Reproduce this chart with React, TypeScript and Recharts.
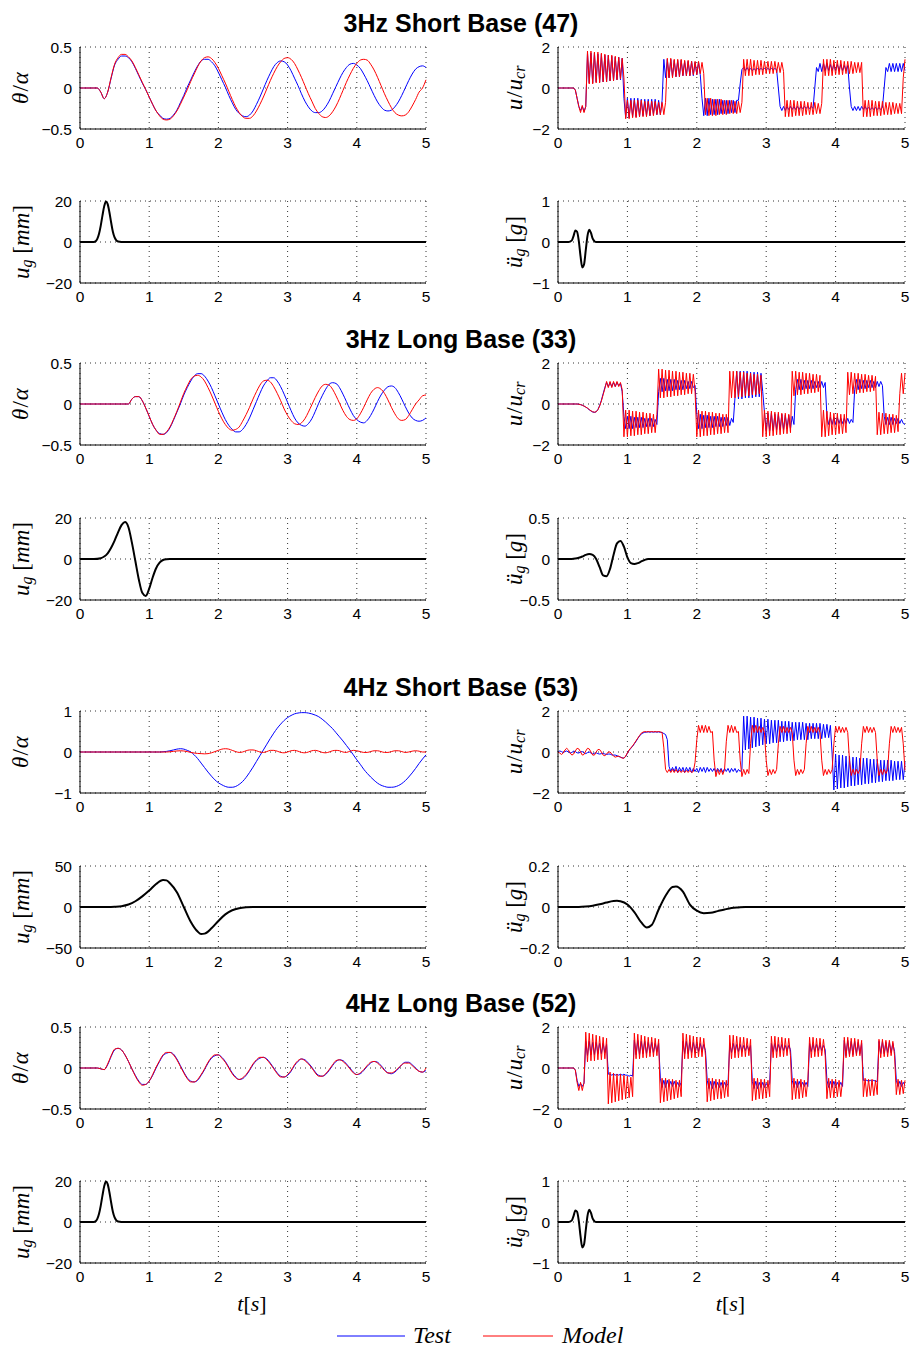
import React from 'react';
import { LineChart, Line, XAxis, YAxis, CartesianGrid } from 'recharts';

// ---------- tick labels / categories ----------
const X_TICKS = [0, 1, 2, 3, 4, 5];
const TICKS_THETA_05 = [-0.5, 0, 0.5];
const TICKS_THETA_1 = [-1, 0, 1];
const TICKS_U = [-2, 0, 2];
const TICKS_UG_20 = [-20, 0, 20];
const TICKS_UG_50 = [-50, 0, 50];
const TICKS_ACC_1 = [-1, 0, 1];
const TICKS_ACC_05 = [-0.5, 0, 0.5];
const TICKS_ACC_02 = [-0.2, 0, 0.2];
const TITLES = ['3Hz Short Base (47)', '3Hz Long Base (33)', '4Hz Short Base (53)', '4Hz Long Base (52)'];
const SERIES_NAMES = ['Test', 'Model'];

const DT_THETA = 0.05;
const DT_U = 0.025;

// ---------- 3Hz Short Base (47) ----------
const thetaTest3S = [0,0,0,0,0,0,-0.05,-0.13,-0.05,0.12,
 0.28,0.35,0.39,0.39,0.37,0.32,0.24,0.15,0.06,-0.02,
 -0.11,-0.2,-0.28,-0.33,-0.37,-0.38,-0.37,-0.33,-0.27,-0.18,
 -0.09,0.01,0.1,0.19,0.27,0.33,0.35,0.35,0.32,0.27,
 0.19,0.1,0.01,-0.09,-0.18,-0.26,-0.31,-0.34,-0.35,-0.33,
 -0.28,-0.2,-0.11,-0.01,0.09,0.18,0.26,0.31,0.33,0.32,
 0.28,0.21,0.12,0.03,-0.07,-0.16,-0.23,-0.28,-0.3,-0.3,
 -0.28,-0.23,-0.16,-0.07,0.02,0.11,0.19,0.25,0.29,0.3,
 0.28,0.24,0.17,0.09,0,-0.09,-0.17,-0.23,-0.27,-0.28,
 -0.27,-0.23,-0.17,-0.09,0,0.09,0.17,0.23,0.26,0.27,
 0.25];
const thetaModel3S = [0,0,0,0,0,0,-0.05,-0.13,-0.05,0.13,
 0.29,0.37,0.41,0.41,0.38,0.33,0.25,0.16,0.07,-0.02,
 -0.11,-0.2,-0.28,-0.34,-0.38,-0.39,-0.38,-0.34,-0.28,-0.2,
 -0.11,-0.02,0.08,0.17,0.26,0.33,0.37,0.38,0.36,0.31,
 0.24,0.15,0.06,-0.04,-0.14,-0.23,-0.3,-0.35,-0.37,-0.37,
 -0.34,-0.28,-0.2,-0.11,-0.01,0.09,0.18,0.26,0.32,0.36,
 0.37,0.35,0.3,0.22,0.13,0.03,-0.07,-0.16,-0.25,-0.31,
 -0.35,-0.36,-0.34,-0.29,-0.22,-0.13,-0.03,0.07,0.16,0.24,
 0.3,0.34,0.35,0.34,0.29,0.22,0.13,0.03,-0.07,-0.16,
 -0.24,-0.3,-0.33,-0.34,-0.33,-0.29,-0.22,-0.14,-0.05,0,
 0.1];
const uTest3S = [0,0,0,0,0,0,0,0,0,0,
 -0.1,-0.5,-0.9,-1.1,-0.9,-1.15,-0.9,1.7,0.25,1.7,
 0.25,1.7,0.3,1.65,0.3,1.65,0.3,1.6,0.3,1.6,
 0.35,1.55,0.35,1.5,0.4,1.5,0.4,1.45,-0.5,-1.45,
 -0.5,-1.45,-0.5,-1.4,-0.5,-1.4,-0.5,-1.4,-0.55,-1.35,
 -0.55,-1.35,-0.55,-1.35,-0.55,-1.3,-0.55,-1.3,-0.6,-1.3,
 -0.6,1.4,0.5,1.4,0.5,1.4,0.55,1.35,0.55,1.35,
 0.55,1.35,0.6,1.3,0.6,1.3,0.6,1.3,0.6,1.25,
 0.65,1.25,0.65,-0.5,-1.35,-0.5,-1.35,-0.5,-1.3,-0.55,
 -1.3,-0.55,-1.3,-0.55,-1.25,-0.6,-1.25,-0.6,-1.25,-0.6,
 -1.2,-0.6,-1.2,-0.6,-0.6,0.2,0.9,1.0,0.85,1.0,
 0.85,0.95,0.85,0.95,0.85,0.95,0.9,0.95,0.9,0.95,
 0.9,0.95,0.9,0.95,0.9,0.95,0.9,0,-0.9,-1.1,
 -0.9,-1.1,-0.9,-1.05,-0.9,-1.05,-0.9,-1.05,-0.9,-1.05,
 -0.9,-1.0,-0.9,-1.0,-0.9,-1.0,-0.9,-1.0,0,1.0,
 0.8,1.2,0.8,1.2,0.85,1.2,0.85,1.15,0.85,1.15,
 0.85,1.15,0.85,1.15,0.85,1.1,0.85,1.1,0,-0.9,
 -1.1,-0.9,-1.1,-0.9,-1.1,-0.9,-1.05,-0.9,-1.05,-0.95,
 -1.05,-0.95,-1.05,-0.95,-1.05,-0.95,-1.05,-0.95,0,1.0,
 0.8,1.2,0.8,1.2,0.8,1.2,0.8,1.2,0.8,1.2,
 0.85];
const uModel3S = [0,0,0,0,0,0,0,0,0,0,
 -0.1,-0.5,-0.9,-1.2,-0.85,-1.2,-0.9,1.8,0.2,1.8,
 0.2,1.75,0.25,1.75,0.25,1.7,0.3,1.65,0.3,1.6,
 0.35,1.6,0.35,1.55,0.4,1.5,0.45,1.45,0.5,-1.5,
 -0.6,-1.5,-0.6,-1.45,-0.6,-1.45,-0.6,-1.4,-0.6,-1.4,
 -0.65,-1.4,-0.65,-1.35,-0.65,-1.35,-0.65,-1.3,-0.7,-1.3,
 -0.7,-1.3,-0.7,1.45,0.5,1.45,0.5,1.4,0.55,1.4,
 0.55,1.4,0.6,1.35,0.6,1.35,0.6,1.3,0.65,1.3,
 0.65,1.3,0.7,1.25,0.7,-1.3,-0.5,-1.35,-0.5,-1.35,
 -0.55,-1.35,-0.55,-1.3,-0.55,-1.3,-0.6,-1.3,-0.6,-1.25,
 -0.6,-1.25,-0.65,-1.25,-0.65,-1.2,-0.7,1.4,0.6,1.4,
 0.6,1.4,0.6,1.35,0.65,1.35,0.65,1.35,0.65,1.3,
 0.7,1.3,0.7,1.3,0.7,1.3,0.75,1.25,0.75,1.25,
 0.8,-1.4,-0.6,-1.4,-0.6,-1.4,-0.6,-1.35,-0.65,-1.35,
 -0.65,-1.35,-0.65,-1.3,-0.7,-1.3,-0.7,-1.3,-0.7,-1.25,
 -0.75,-1.25,-0.75,1.4,0.6,1.4,0.6,1.4,0.6,1.35,
 0.65,1.35,0.65,1.35,0.65,1.3,0.7,1.3,0.7,1.3,
 0.7,1.25,0.75,1.25,0.75,1.25,-1.4,-0.6,-1.4,-0.6,
 -1.4,-0.6,-1.35,-0.65,-1.35,-0.65,-1.35,-0.65,-1.3,-0.7,
 -1.3,-0.7,-1.3,-0.7,-1.25,-0.75,-1.25,-0.75,-1.25,0.5,
 1.4];
const ugTime3S = [0,0.2,0.225,0.25,0.275,0.3,0.325,0.35,0.375,0.4,0.425,0.45,0.475,0.5,0.525,0.55,0.6,5];
const ug3S = [0,0,0.3,1.5,4,8,13,17.5,19.8,18.5,14.5,9.5,5,2.2,0.8,0.2,0,0];
const accTime3S = [0,0.15,0.2,0.225,0.25,0.275,0.3,0.325,0.35,0.375,0.4,0.425,0.45,0.475,0.5,0.525,0.55,0.6,5];
const acc3S = [0,0,0.04,0.15,0.28,0.25,0.02,-0.35,-0.62,-0.55,-0.2,0.15,0.3,0.22,0.08,0.02,0,0,0];

// ---------- 3Hz Long Base (33) ----------
const thetaTest3L = [0,0,0,0,0,0,0,0,0,0,
 0,0,0,0,0,0.06,0.09,0.09,0.04,-0.05,
 -0.15,-0.25,-0.32,-0.36,-0.37,-0.35,-0.29,-0.2,-0.1,0,
 0.11,0.2,0.28,0.34,0.37,0.37,0.34,0.28,0.2,0.1,
 0,-0.1,-0.19,-0.26,-0.31,-0.34,-0.34,-0.31,-0.25,-0.17,
 -0.07,0.03,0.13,0.22,0.28,0.32,0.32,0.28,0.21,0.12,
 0.02,-0.08,-0.17,-0.23,-0.26,-0.27,-0.24,-0.18,-0.09,0.01,
 0.1,0.18,0.24,0.26,0.25,0.2,0.12,0.03,-0.06,-0.14,
 -0.19,-0.22,-0.23,-0.2,-0.14,-0.06,0.03,0.11,0.17,0.21,
 0.22,0.2,0.14,0.06,-0.03,-0.11,-0.17,-0.2,-0.21,-0.2,
 -0.17];
const thetaModel3L = [0,0,0,0,0,0,0,0,0,0,
 0,0,0,0,0,0.06,0.09,0.09,0.04,-0.05,
 -0.15,-0.25,-0.32,-0.37,-0.37,-0.34,-0.28,-0.19,-0.09,0.02,
 0.13,0.22,0.3,0.34,0.35,0.33,0.28,0.2,0.11,0.01,
 -0.09,-0.18,-0.25,-0.3,-0.32,-0.31,-0.28,-0.21,-0.13,-0.04,
 0.06,0.15,0.23,0.28,0.29,0.27,0.21,0.13,0.04,-0.06,
 -0.14,-0.2,-0.24,-0.25,-0.23,-0.18,-0.1,-0.01,0.08,0.16,
 0.22,0.24,0.23,0.18,0.1,0.01,-0.08,-0.15,-0.19,-0.2,
 -0.18,-0.12,-0.04,0.05,0.13,0.18,0.2,0.18,0.13,0.05,
 -0.04,-0.12,-0.18,-0.2,-0.19,-0.14,-0.07,0,0.05,0.1,
 0.11];
const uTest3L = [0,0,0,0,0,0,0,0,0,0,
 0,0,-0.01,-0.03,-0.06,-0.1,-0.15,-0.21,-0.28,-0.34,
 -0.39,-0.41,-0.38,-0.27,-0.08,0.18,0.5,0.8,1.05,0.85,
 1.05,0.85,1.05,0.85,1.05,0.9,1.0,0.6,-0.6,-1.2,
 -0.6,-1.2,-0.6,-1.2,-0.65,-1.15,-0.65,-1.15,-0.65,-1.15,
 -0.7,-1.1,-0.7,-1.1,-0.7,-1.1,-0.75,-1.0,0.6,1.25,
 0.6,1.25,0.65,1.2,0.65,1.2,0.65,1.2,0.7,1.15,
 0.7,1.15,0.7,1.15,0.75,1.1,0.75,1.1,0.8,0.9,
 -0.5,-1.2,-0.5,-1.2,-0.55,-1.15,-0.55,-1.15,-0.6,-1.15,
 -0.6,-1.1,-0.6,-1.1,-0.65,-1.1,-0.65,-1.05,-0.65,-1.05,
 -0.7,-0.9,0.3,1.6,0.25,1.6,0.25,1.6,0.3,1.6,
 0.3,1.55,0.3,1.55,0.35,1.55,0.35,1.5,0.6,-0.4,
 -1.3,-0.45,-1.3,-0.45,-1.3,-0.5,-1.25,-0.5,-1.25,-0.5,
 -1.25,-0.55,-1.2,-0.55,-1.2,-0.6,-1.0,0.7,1.2,0.7,
 1.2,0.7,1.15,0.75,1.15,0.75,1.15,0.75,1.1,0.8,
 1.1,0.8,1.1,0.8,1.05,-0.6,-1.0,-0.65,-1.0,-0.65,
 -1.0,-0.65,-0.95,-0.7,-0.95,-0.7,-0.95,-0.7,-0.95,-0.75,
 -0.9,0.7,1.2,0.7,1.2,0.75,1.15,0.75,1.15,0.8,
 1.15,0.8,1.1,0.8,1.1,0.85,1.1,0.9,-0.6,-1.0,
 -0.65,-1.0,-0.65,-1.0,-0.7,-0.95,-0.7,-0.95,-0.75,-0.95,
 -1.0];
const uModel3L = [0,0,0,0,0,0,0,0,0,0,
 0,0,-0.01,-0.03,-0.06,-0.1,-0.15,-0.2,-0.27,-0.33,
 -0.38,-0.4,-0.38,-0.28,-0.1,0.15,0.45,0.75,1.1,0.8,
 1.1,0.8,1.1,0.85,1.1,0.85,1.05,0.7,-1.6,-0.3,
 -1.6,-0.3,-1.55,-0.35,-1.55,-0.35,-1.5,-0.4,-1.5,-0.4,
 -1.45,-0.45,-1.45,-0.45,-1.4,-0.5,-1.4,-0.5,1.7,0.3,
 1.7,0.3,1.65,0.35,1.65,0.35,1.6,0.4,1.6,0.4,
 1.55,0.45,1.55,0.45,1.5,0.5,1.5,0.5,1.45,0.6,
 -1.6,-0.3,-1.6,-0.35,-1.55,-0.35,-1.55,-0.4,-1.5,-0.4,
 -1.5,-0.45,-1.45,-0.45,-1.45,-0.5,-1.4,-0.5,-1.4,1.6,
 0.3,1.6,0.3,1.6,0.35,1.55,0.35,1.55,0.4,1.5,
 0.4,1.5,0.45,1.45,0.45,1.45,0.5,1.4,-1.6,-0.3,
 -1.6,-0.35,-1.55,-0.35,-1.55,-0.4,-1.5,-0.4,-1.5,-0.45,
 -1.45,-0.45,-1.45,-0.5,-1.4,1.6,0.4,1.6,0.45,1.55,
 0.45,1.55,0.5,1.5,0.5,1.5,0.55,1.45,0.55,1.45,
 0.6,1.4,-1.6,-0.3,-1.6,-0.35,-1.55,-0.4,-1.5,-0.45,
 -1.5,-0.45,-1.45,-0.5,-1.45,-0.5,-1.4,1.55,0.45,1.55,
 0.5,1.5,0.5,1.5,0.55,1.45,0.55,1.45,0.6,1.4,
 0.6,1.4,0.65,1.35,-1.5,-0.4,-1.5,-0.45,-1.45,-0.45,
 -1.45,-0.5,-1.4,-0.5,-1.4,-0.55,-1.35,0.5,1.5,0.5,
 1.5];
const ugTime3L = [0,0.2,0.3,0.35,0.4,0.45,0.5,0.55,0.6,0.65,0.7,0.75,0.8,0.85,0.9,0.95,1.0,1.05,1.1,1.15,1.2,1.25,1.3,5];
const ug3L = [0,0,0.4,1.2,2.8,5.5,9,13,16.5,18,15.5,8,-1,-10,-16.5,-18,-14.5,-9,-4.5,-1.8,-0.5,-0.1,0,0];
const accTime3L = [0,0.2,0.25,0.3,0.35,0.4,0.45,0.5,0.55,0.6,0.65,0.7,0.75,0.8,0.85,0.9,0.95,1.0,1.05,1.1,1.15,1.2,1.25,1.3,5];
const acc3L = [0,0,0.005,0.015,0.03,0.05,0.06,0.05,0,-0.1,-0.2,-0.21,-0.12,0.05,0.19,0.22,0.15,0.02,-0.05,-0.06,-0.05,-0.03,-0.01,0,0];

// ---------- 4Hz Short Base (53) ----------
const thetaTest4S = [0,0,0,0,0,0,0,0,0,0,
 0,0,0,0,0,0,0,0,0,0,
 0,0,0,0,0.005,0.015,0.03,0.05,0.07,0.08,
 0.07,0.04,0,-0.07,-0.16,-0.27,-0.38,-0.49,-0.59,-0.68,
 -0.75,-0.8,-0.84,-0.86,-0.86,-0.84,-0.79,-0.72,-0.62,-0.5,
 -0.37,-0.23,-0.09,0.05,0.19,0.33,0.46,0.58,0.68,0.77,
 0.84,0.89,0.93,0.95,0.96,0.96,0.95,0.93,0.9,0.86,
 0.8,0.73,0.65,0.57,0.47,0.37,0.27,0.16,0.05,-0.07,
 -0.19,-0.3,-0.42,-0.52,-0.61,-0.69,-0.76,-0.81,-0.84,-0.86,
 -0.86,-0.85,-0.82,-0.77,-0.7,-0.61,-0.51,-0.4,-0.28,-0.17,
 -0.07];
const thetaModel4S = [0,0,0,0,0,0,0,0,0,0,
 0,0,0,0,0,0,0,0,0,0,
 0,0,0,0,0,0,0.005,0.015,0.025,0.03,
 0.025,0.01,-0.01,-0.025,-0.035,-0.04,-0.045,-0.04,-0.02,0.01,
 0.04,0.07,0.08,0.07,0.04,0.01,-0.01,0,0.03,0.05,
 0.05,0.03,0,-0.01,0.01,0.04,0.04,0.02,-0.01,-0.02,
 0,0.03,0.04,0.02,-0.01,-0.02,0,0.03,0.04,0.02,
 -0.01,-0.02,0,0.03,0.04,0.03,0,-0.01,0.02,0.04,
 0.03,0.01,-0.01,-0.01,0.01,0.03,0.03,0.01,-0.01,-0.01,
 0.01,0.03,0.03,0.01,-0.01,0,0.02,0.03,0.02,0,
 0];
const uTest4S = [0,0.05,0.02,-0.03,0.02,0.05,0,-0.05,-0.02,0.04,
 0.02,-0.04,-0.05,0,0.02,-0.05,-0.08,-0.03,0,-0.05,
 -0.1,-0.06,-0.04,-0.08,-0.1,-0.08,-0.06,-0.1,-0.12,-0.1,
 -0.1,-0.14,-0.15,-0.15,-0.18,-0.22,-0.25,-0.28,-0.3,-0.22,
 -0.05,0.08,0.18,0.28,0.4,0.52,0.66,0.78,0.88,0.93,
 0.96,0.97,0.98,0.97,0.98,0.97,0.98,0.97,0.98,0.96,
 0.95,0.9,0.85,0.6,-0.7,-0.95,-0.75,-0.95,-0.7,-1.0,
 -0.75,-0.95,-0.75,-1.0,-0.75,-0.95,-0.75,-1.0,-0.8,-0.95,
 -0.8,-1.0,-0.75,-0.95,-0.75,-1.0,-0.75,-0.95,-0.8,-0.95,
 -0.8,-1.0,-0.8,-0.95,-0.8,-1.0,-0.8,-0.95,-0.8,-1.0,
 -0.8,-0.95,-0.8,-1.0,-0.85,-0.95,-0.85,1.75,0.1,1.75,
 0.15,1.7,0.2,1.7,0.25,1.65,0.3,1.65,0.35,1.6,
 0.4,1.6,0.4,1.55,0.45,1.55,0.45,1.55,0.5,1.5,
 0.5,1.5,0.55,1.5,0.55,1.45,0.55,1.45,0.6,1.45,
 0.6,1.45,0.6,1.4,0.6,1.4,0.65,1.4,0.65,1.4,
 0.65,1.4,0.65,1.35,0.7,1.35,0.7,1.3,-0.1,-1.85,
 -0.1,-1.8,-0.15,-1.75,-0.15,-1.75,-0.2,-1.7,-0.2,-1.65,
 -0.25,-1.65,-0.25,-1.6,-0.3,-1.6,-0.3,-1.55,-0.3,-1.55,
 -0.35,-1.5,-0.35,-1.5,-0.35,-1.45,-0.4,-1.45,-0.4,-1.4,
 -0.4,-1.4,-0.4,-1.4,-0.45,-1.35,-0.45,-1.35,-0.45,-1.35,
 -0.5];
const uModel4S = [0,-0.05,-0.12,-0.05,0.1,0.18,0.1,-0.05,-0.15,-0.1,
 0.05,0.18,0.15,0,-0.15,-0.12,0.05,0.18,0.15,0,
 -0.15,-0.15,0,0.12,0.12,0,-0.15,-0.18,-0.1,0,
 0,-0.1,-0.2,-0.25,-0.22,-0.2,-0.25,-0.3,-0.3,-0.2,
 -0.05,0.1,0.2,0.3,0.42,0.55,0.68,0.8,0.92,0.97,
 1.0,0.98,1.0,0.98,1.0,0.98,1.0,0.98,1.0,0.98,
 0.95,0.2,-0.85,-1.0,-0.85,-1.0,-0.85,-1.0,-0.85,-1.0,
 -0.9,-1.0,-0.9,-1.0,-0.9,-1.0,-0.9,-1.0,-0.95,-0.5,
 0.6,1.3,0.95,1.3,0.95,1.3,0.95,1.25,0.95,1.0,
 -0.4,-1.2,-0.85,-1.1,-0.85,-1.1,-0.85,0.5,1.3,0.95,
 1.3,0.95,1.25,0.95,1.0,-0.4,-1.2,-0.85,-1.1,-0.85,
 -1.05,0.4,1.3,0.95,1.3,0.95,1.25,0.95,1.2,0.95,
 -0.4,-1.15,-0.85,-1.1,-0.85,-1.05,-0.85,0.4,1.25,0.95,
 1.25,0.95,1.2,0.95,1.2,0.95,-0.4,-1.15,-0.85,-1.1,
 -0.85,-1.05,-0.85,0.4,1.25,0.95,1.25,0.95,1.2,0.95,
 1.2,0.95,-0.4,-1.15,-0.85,-1.1,-0.85,-1.05,-0.85,0.4,
 1.25,0.95,1.25,0.95,1.2,0.95,1.2,0.95,-0.4,-1.15,
 -0.85,-1.1,-0.85,-1.05,-0.85,0.4,1.25,0.95,1.25,0.95,
 1.2,0.95,1.2,0.95,-0.4,-1.15,-0.85,-1.1,-0.85,-1.05,
 -0.85,0.4,1.25,0.95,1.25,0.95,1.2,0.95,1.2,0.4,
 -0.9];
const ugTime4S = [0,0.4,0.5,0.6,0.7,0.8,0.9,1.0,1.1,1.2,1.25,1.3,1.4,1.5,1.6,1.7,1.75,1.8,1.9,2.0,2.1,2.2,2.3,2.4,2.5,5];
const ug4S = [0,0,0.3,1,3,7,13,20,28,33,32.5,29,18,0,-18,-30,-33,-32.5,-26,-17,-9,-4,-1.5,-0.4,0,0];
const accTime4S = [0,0.3,0.4,0.5,0.6,0.7,0.8,0.85,0.9,1.0,1.1,1.2,1.28,1.35,1.45,1.55,1.65,1.7,1.8,1.9,2.0,2.1,2.2,2.3,2.4,2.5,2.6,2.7,5];
const acc4S = [0,0,0.002,0.006,0.013,0.022,0.029,0.03,0.028,0.012,-0.025,-0.075,-0.1,-0.088,-0.012,0.055,0.098,0.1,0.075,0.012,-0.018,-0.03,-0.028,-0.02,-0.012,-0.005,-0.002,0,0];

// ---------- 4Hz Long Base (52) ----------
const thetaTest4L = [0,0,0,0,0,0,-0.01,-0.02,0.04,0.14,
 0.22,0.24,0.22,0.16,0.08,-0.01,-0.09,-0.16,-0.2,-0.2,
 -0.16,-0.09,0,0.08,0.15,0.18,0.19,0.17,0.11,0.03,
 -0.05,-0.12,-0.16,-0.17,-0.15,-0.09,-0.02,0.06,0.12,0.15,
 0.16,0.13,0.08,0.01,-0.06,-0.11,-0.14,-0.13,-0.09,-0.03,
 0.04,0.09,0.12,0.13,0.11,0.06,0,-0.06,-0.1,-0.11,
 -0.09,-0.04,0.03,0.08,0.11,0.1,0.06,0.01,-0.05,-0.09,
 -0.1,-0.08,-0.03,0.03,0.08,0.1,0.09,0.05,0,-0.05,
 -0.08,-0.07,-0.03,0.02,0.06,0.08,0.07,0.03,-0.02,-0.06,
 -0.07,-0.05,-0.01,0.04,0.07,0.07,0.04,0,-0.04,-0.05,
 -0.03];
const thetaModel4L = [0,0,0,0,0,0,-0.01,-0.02,0.05,0.15,
 0.23,0.24,0.22,0.16,0.08,-0.01,-0.1,-0.17,-0.21,-0.2,
 -0.16,-0.08,0.01,0.09,0.16,0.19,0.19,0.16,0.1,0.02,
 -0.06,-0.13,-0.17,-0.17,-0.14,-0.08,-0.01,0.07,0.13,0.16,
 0.16,0.12,0.07,0,-0.07,-0.12,-0.14,-0.12,-0.08,-0.02,
 0.05,0.1,0.13,0.13,0.1,0.05,-0.01,-0.07,-0.11,-0.11,
 -0.08,-0.03,0.04,0.09,0.11,0.09,0.05,0,-0.06,-0.1,
 -0.1,-0.07,-0.02,0.04,0.09,0.1,0.08,0.04,-0.01,-0.06,
 -0.08,-0.06,-0.02,0.03,0.07,0.08,0.06,0.02,-0.03,-0.06,
 -0.06,-0.04,0,0.04,0.06,0.06,0.03,-0.01,-0.04,-0.05,
 0];
const uTest4L = [0,0,0,0,0,0,0,0,0,0,
 -0.1,-0.6,-0.9,-0.75,-0.9,-0.75,1.3,0.6,1.3,0.65,
 1.25,0.65,1.25,0.7,1.2,0.7,1.2,0.75,1.15,-0.3,
 -0.3,-0.35,-0.3,-0.35,-0.3,-0.35,-0.3,-0.35,-0.3,-0.35,
 -0.35,-0.4,-0.35,-0.4,1.35,0.65,1.35,0.65,1.3,0.7,
 1.3,0.7,1.25,0.75,1.25,0.75,1.2,0.8,1.2,-0.5,
 -0.95,-0.6,-0.95,-0.6,-0.9,-0.65,-0.9,-0.65,-0.9,-0.7,
 -0.9,-0.7,1.3,0.7,1.3,0.7,1.25,0.75,1.25,0.75,
 1.2,0.8,1.2,0.8,1.15,0.85,-0.6,-1.0,-0.65,-1.0,
 -0.65,-0.95,-0.7,-0.95,-0.7,-0.95,-0.7,-0.9,-0.75,1.2,
 0.75,1.2,0.75,1.15,0.8,1.15,0.8,1.1,0.85,1.1,
 0.85,1.1,-0.65,-1.0,-0.65,-1.0,-0.7,-0.95,-0.7,-0.95,
 -0.75,-0.9,-0.75,1.2,0.8,1.2,0.8,1.15,0.85,1.15,
 0.85,1.1,0.85,1.1,0.9,-0.6,-0.95,-0.65,-0.95,-0.65,
 -0.9,-0.7,-0.9,-0.7,-0.9,1.2,0.8,1.2,0.8,1.15,
 0.85,1.15,0.85,1.1,0.9,-0.6,-0.95,-0.65,-0.95,-0.65,
 -0.9,-0.7,-0.9,-0.7,-0.9,1.35,0.6,1.35,0.65,1.3,
 0.65,1.3,0.7,1.25,0.7,1.2,-0.6,-0.6,-0.6,-0.65,
 -0.6,-0.65,-0.6,-0.65,-0.65,1.3,0.7,1.3,0.7,1.25,
 0.75,1.25,0.75,1.2,0.8,-0.6,-0.9,-0.65,-0.9,-0.7,
 -0.85];
const uModel4L = [0,0,0,0,0,0,0,0,0,0,
 -0.1,-0.7,-1.1,-0.7,-1.1,-0.7,1.75,0.3,1.7,0.35,
 1.65,0.35,1.6,0.4,1.55,0.4,1.5,0.45,1.45,-1.75,
 -0.2,-1.7,-0.25,-1.65,-0.3,-1.6,-0.3,-1.55,-0.35,-1.5,
 -0.4,-1.45,-0.45,-1.4,1.7,0.45,1.65,0.45,1.6,0.5,
 1.55,0.5,1.5,0.55,1.5,0.55,1.45,0.6,1.4,-1.7,
 -0.5,-1.65,-0.5,-1.6,-0.55,-1.55,-0.55,-1.5,-0.6,-1.45,
 -0.6,-1.4,1.7,0.45,1.65,0.45,1.6,0.5,1.55,0.5,
 1.5,0.55,1.5,0.55,1.45,0.6,-1.65,-0.5,-1.6,-0.5,
 -1.55,-0.55,-1.5,-0.55,-1.5,-0.6,-1.45,-0.6,-1.4,1.6,
 0.45,1.6,0.5,1.55,0.5,1.5,0.55,1.5,0.55,1.45,
 0.6,1.4,-1.6,-0.5,-1.55,-0.5,-1.5,-0.55,-1.5,-0.55,
 -1.45,-0.6,-1.4,1.55,0.5,1.55,0.5,1.5,0.55,1.5,
 0.55,1.45,0.6,1.45,0.6,-1.55,-0.5,-1.5,-0.55,-1.5,
 -0.55,-1.45,-0.6,-1.4,-0.6,1.5,0.5,1.5,0.55,1.45,
 0.55,1.45,0.6,1.4,0.6,-1.5,-0.5,-1.45,-0.55,-1.45,
 -0.55,-1.4,-0.6,-1.4,-0.6,1.5,0.5,1.5,0.55,1.45,
 0.55,1.45,0.6,1.4,0.6,1.35,-1.4,-0.5,-1.4,-0.55,
 -1.35,-0.55,-1.35,-0.6,-1.3,1.4,0.5,1.4,0.55,1.35,
 0.55,1.35,0.6,1.3,0.6,-1.3,-0.55,-1.3,-0.6,-1.25,
 -0.6];
// ground motion of the 4Hz long base test is the same 20 mm pulse as the 3Hz short base test
const ugTime4L = ugTime3S;
const ug4L = ug3S;
const accTime4L = accTime3S;
const acc4L = acc3S;

// ---------- helpers ----------
type Pt = { t: number; v: number };
const bySteps = (dt: number, vals: number[]): Pt[] =>
  vals.map((v, i) => ({ t: Math.round(i * dt * 1000) / 1000, v }));
const byTimes = (ts: number[], vals: number[]): Pt[] => ts.map((t, i) => ({ t, v: vals[i] }));

const BLUE = '#0000ff';
const RED = '#ff0000';
const BLACK = '#000000';

const GROUPS = [
  {
    title: TITLES[0],
    theta: [bySteps(DT_THETA, thetaTest3S), bySteps(DT_THETA, thetaModel3S)], thetaDomain: [-0.5, 0.5], thetaTicks: TICKS_THETA_05,
    u: [bySteps(DT_U, uTest3S), bySteps(DT_U, uModel3S)],
    ug: byTimes(ugTime3S, ug3S), ugDomain: [-20, 20], ugTicks: TICKS_UG_20,
    acc: byTimes(accTime3S, acc3S), accDomain: [-1, 1], accTicks: TICKS_ACC_1,
  },
  {
    title: TITLES[1],
    theta: [bySteps(DT_THETA, thetaTest3L), bySteps(DT_THETA, thetaModel3L)], thetaDomain: [-0.5, 0.5], thetaTicks: TICKS_THETA_05,
    u: [bySteps(DT_U, uTest3L), bySteps(DT_U, uModel3L)],
    ug: byTimes(ugTime3L, ug3L), ugDomain: [-20, 20], ugTicks: TICKS_UG_20,
    acc: byTimes(accTime3L, acc3L), accDomain: [-0.5, 0.5], accTicks: TICKS_ACC_05,
  },
  {
    title: TITLES[2],
    theta: [bySteps(DT_THETA, thetaTest4S), bySteps(DT_THETA, thetaModel4S)], thetaDomain: [-1, 1], thetaTicks: TICKS_THETA_1,
    u: [bySteps(DT_U, uTest4S), bySteps(DT_U, uModel4S)],
    ug: byTimes(ugTime4S, ug4S), ugDomain: [-50, 50], ugTicks: TICKS_UG_50,
    acc: byTimes(accTime4S, acc4S), accDomain: [-0.2, 0.2], accTicks: TICKS_ACC_02,
  },
  {
    title: TITLES[3],
    theta: [bySteps(DT_THETA, thetaTest4L), bySteps(DT_THETA, thetaModel4L)], thetaDomain: [-0.5, 0.5], thetaTicks: TICKS_THETA_05,
    u: [bySteps(DT_U, uTest4L), bySteps(DT_U, uModel4L)],
    ug: byTimes(ugTime4L, ug4L), ugDomain: [-20, 20], ugTicks: TICKS_UG_20,
    acc: byTimes(accTime4L, acc4L), accDomain: [-1, 1], accTicks: TICKS_ACC_1,
  },
];

// ---------- layout ----------
const COL_X = [80, 558];
const COL_W = [346, 347];
const ROW_Y = [47, 201, 363, 518, 711, 866, 1027, 1181];
const PLOT_H = 82;
const AXIS_W = 60;
const AXIS_H = 30;
const PAD_T = 10;
const PAD_R = 10;
const SANS = '"Liberation Sans", Arial, Helvetica, sans-serif';
const SERIF = '"Liberation Serif", "DejaVu Serif", "Times New Roman", serif';
const TICK_STYLE = { fill: '#000', fontSize: 15.5, fontFamily: SANS };

const fmt = (v: number) => (v < 0 ? '\u2212' + String(-v) : String(v));

type SeriesSpec = { data: Pt[]; color: string; width: number; curve: 'linear' | 'monotone' };

function Panel({ x, y, w, domain, ticks, series }: { x: number; y: number; w: number; domain: number[]; ticks: number[]; series: SeriesSpec[] }) {
  return (
    <div style={{ position: 'absolute', left: x - AXIS_W, top: y - PAD_T }}>
      <LineChart width={w + AXIS_W + PAD_R} height={PLOT_H + PAD_T + AXIS_H} margin={{ top: PAD_T, right: PAD_R, bottom: 0, left: 0 }}>
        <CartesianGrid xAxisId="x" yAxisId="y" stroke="#333" strokeDasharray="1 4" strokeWidth={1} />
        <XAxis xAxisId="x" type="number" dataKey="t" domain={[0, 5]} ticks={X_TICKS} interval={0} height={AXIS_H}
          axisLine={{ stroke: '#000' }} tickLine={false} tick={TICK_STYLE} />
        <XAxis xAxisId="top" orientation="top" type="number" dataKey="t" domain={[0, 5]} ticks={X_TICKS} height={0}
          axisLine={{ stroke: '#000' }} tickLine={false} tick={false} />
        <YAxis yAxisId="y" type="number" domain={domain} ticks={ticks} interval={0} width={AXIS_W}
          axisLine={{ stroke: '#000' }} tickLine={false} tick={TICK_STYLE} tickFormatter={fmt} />
        <YAxis yAxisId="right" orientation="right" type="number" domain={domain} ticks={ticks} width={0}
          axisLine={{ stroke: '#000' }} tickLine={false} tick={false} />
        {series.map((s, i) => (
          <Line key={i} xAxisId="x" yAxisId="y" data={s.data} dataKey="v" type={s.curve} stroke={s.color}
            strokeWidth={s.width} dot={false} activeDot={false} isAnimationActive={false} />
        ))}
      </LineChart>
    </div>
  );
}

const SUB = { fontSize: 16 };

function YLabel({ x, y, kind }: { x: number; y: number; kind: string }) {
  let content: React.ReactNode = null;
  if (kind === 'theta') {
    content = (<><tspan fontStyle="italic">θ</tspan><tspan dx={1}>/</tspan><tspan fontStyle="italic" dx={1}>α</tspan></>);
  } else if (kind === 'u') {
    content = (<><tspan fontStyle="italic">u</tspan><tspan dx={1}>/</tspan><tspan fontStyle="italic" dx={1}>u</tspan><tspan fontStyle="italic" style={SUB} dy={5}>cr</tspan></>);
  } else if (kind === 'ug') {
    content = (<><tspan fontStyle="italic">u</tspan><tspan fontStyle="italic" style={SUB} dy={5}>g</tspan><tspan dy={-5}> [</tspan><tspan fontStyle="italic">mm</tspan><tspan>]</tspan></>);
  } else {
    content = (<><tspan fontStyle="italic">ü</tspan><tspan fontStyle="italic" style={SUB} dy={5}>g</tspan><tspan dy={-5}> [</tspan><tspan fontStyle="italic">g</tspan><tspan>]</tspan></>);
  }
  return (
    <text transform={`translate(${x},${y}) rotate(-90)`} textAnchor="middle" dominantBaseline="central"
      fontFamily={SERIF} fontSize={23} fill="#000">{content}</text>
  );
}

export default function App() {
  const panels: React.ReactNode[] = [];
  const labels: React.ReactNode[] = [];
  GROUPS.forEach((g, gi) => {
    const rTop = ROW_Y[gi * 2];
    const rBot = ROW_Y[gi * 2 + 1];
    panels.push(
      <Panel key={`th${gi}`} x={COL_X[0]} y={rTop} w={COL_W[0]} domain={g.thetaDomain} ticks={g.thetaTicks}
        series={[{ data: g.theta[0], color: BLUE, width: 1, curve: 'monotone' }, { data: g.theta[1], color: RED, width: 1, curve: 'monotone' }]} />,
      <Panel key={`u${gi}`} x={COL_X[1]} y={rTop} w={COL_W[1]} domain={[-2, 2]} ticks={TICKS_U}
        series={[{ data: g.u[0], color: BLUE, width: 1, curve: 'linear' }, { data: g.u[1], color: RED, width: 1, curve: 'linear' }]} />,
      <Panel key={`ug${gi}`} x={COL_X[0]} y={rBot} w={COL_W[0]} domain={g.ugDomain} ticks={g.ugTicks}
        series={[{ data: g.ug, color: BLACK, width: 2, curve: 'monotone' }]} />,
      <Panel key={`acc${gi}`} x={COL_X[1]} y={rBot} w={COL_W[1]} domain={g.accDomain} ticks={g.accTicks}
        series={[{ data: g.acc, color: BLACK, width: 2, curve: 'monotone' }]} />
    );
    labels.push(
      <text key={`t${gi}`} x={461} y={rTop - 15} textAnchor="middle" fontFamily={SANS} fontWeight="bold" fontSize={25} fill="#000">{g.title}</text>,
      <YLabel key={`l1${gi}`} x={20} y={rTop + PLOT_H / 2} kind="theta" />,
      <YLabel key={`l2${gi}`} x={514} y={rTop + PLOT_H / 2} kind="u" />,
      <YLabel key={`l3${gi}`} x={21} y={rBot + PLOT_H / 2} kind="ug" />,
      <YLabel key={`l4${gi}`} x={514} y={rBot + PLOT_H / 2} kind="acc" />
    );
  });
  const xLabelY = ROW_Y[7] + PLOT_H + 48;
  return (
    <div style={{ position: 'absolute', left: 0, top: 0, width: 914, height: 1347, background: '#fff', overflow: 'hidden' }}>
      {panels}
      <svg width={914} height={1347} style={{ position: 'absolute', left: 0, top: 0, pointerEvents: 'none' }}>
        {labels}
        {[COL_X[0] + COL_W[0] / 2 - 1, COL_X[1] + COL_W[1] / 2 - 1].map((cx, i) => (
          <text key={`xl${i}`} x={cx} y={xLabelY} textAnchor="middle" fontFamily={SERIF} fontSize={22} fill="#000">
            <tspan fontStyle="italic">t</tspan><tspan>[</tspan><tspan fontStyle="italic">s</tspan><tspan>]</tspan>
          </text>
        ))}
        <g>
          <line x1={337} x2={405} y1={1336} y2={1336} stroke={BLUE} strokeWidth={1} />
          <text x={413} y={1343} fontFamily={SERIF} fontStyle="italic" fontSize={24} fill="#000">{SERIES_NAMES[0]}</text>
          <line x1={483} x2={553} y1={1336} y2={1336} stroke={RED} strokeWidth={1} />
          <text x={562} y={1343} fontFamily={SERIF} fontStyle="italic" fontSize={24} fill="#000">{SERIES_NAMES[1]}</text>
        </g>
      </svg>
    </div>
  );
}
